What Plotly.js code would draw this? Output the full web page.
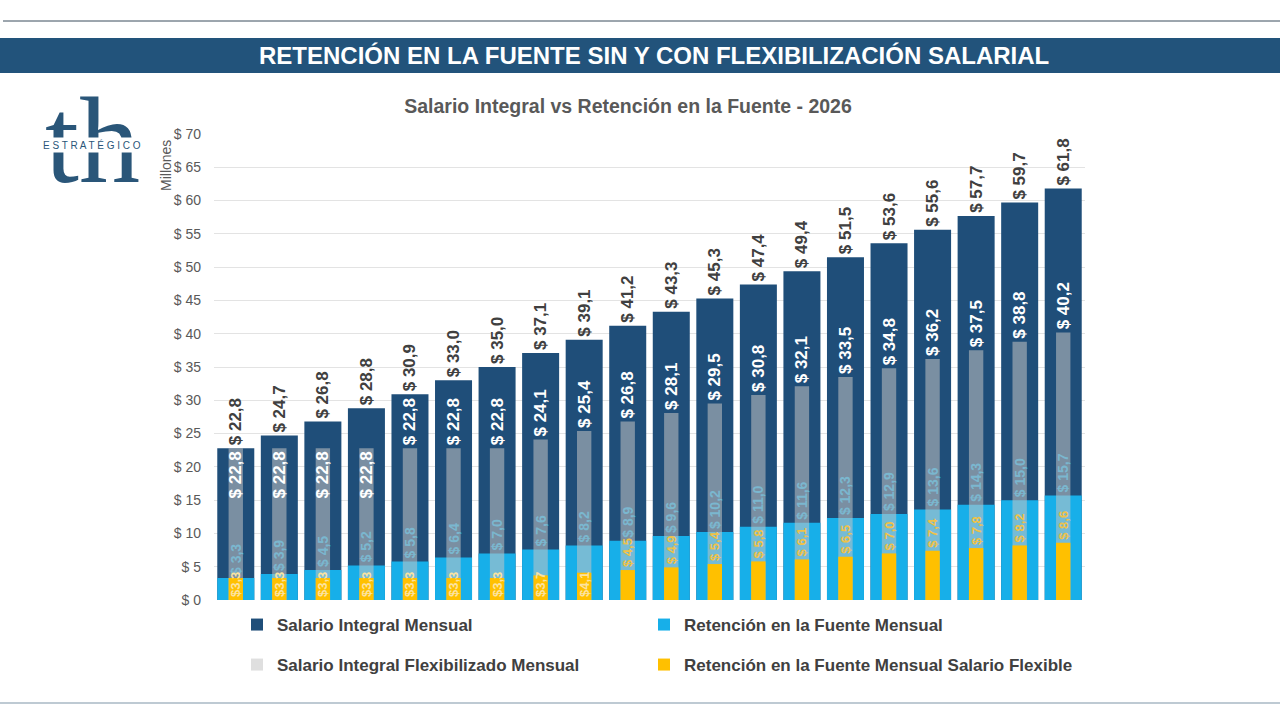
<!DOCTYPE html>
<html>
<head>
<meta charset="utf-8">
<script src="https://cdn.plot.ly/plotly-3.0.1.min.js"></script>
<style>
  html, body { margin: 0; padding: 0; background: #fff; }
  #grafico { width: 1280px; height: 720px; }
</style>
</head>
<body>
<div id="grafico"></div>
<script>
// Niveles salariales (no se muestran etiquetas en el eje x)
var niveles = ['N1','N2','N3','N4','N5','N6','N7','N8','N9','N10',
               'N11','N12','N13','N14','N15','N16','N17','N18','N19','N20'];

// Valores en millones de pesos
var salarioIntegral = [22.8, 24.7, 26.8, 28.8, 30.9, 33.0, 35.0, 37.1, 39.1, 41.2,
                       43.3, 45.3, 47.4, 49.4, 51.5, 53.6, 55.6, 57.7, 59.7, 61.8];
var salarioFlexible = [22.8, 22.8, 22.8, 22.8, 22.8, 22.8, 22.8, 24.1, 25.4, 26.8,
                       28.1, 29.5, 30.8, 32.1, 33.5, 34.8, 36.2, 37.5, 38.8, 40.2];
var retencion       = [3.3, 3.9, 4.5, 5.2, 5.8, 6.4, 7.0, 7.6, 8.2, 8.9,
                       9.6, 10.2, 11.0, 11.6, 12.3, 12.9, 13.6, 14.3, 15.0, 15.7];
var retencionFlex   = [3.3, 3.3, 3.3, 3.3, 3.3, 3.3, 3.3, 3.7, 4.1, 4.5,
                       4.9, 5.4, 5.8, 6.1, 6.5, 7.0, 7.4, 7.8, 8.2, 8.6];

var FUENTE = '"Liberation Sans Narrow", "Arial Narrow", "Liberation Sans", Arial, sans-serif';

function pesos(v) { return '$ ' + v.toFixed(1).replace('.', ','); }
function pesosCorto(v) { return '$' + v.toFixed(1).replace('.', ','); }

// area del grafico en pixeles
var L = 214, R = 1085, T = 134, B = 600;
var W = R - L, H = B - T;
function px(x) { return (x - L) / W; }
function py(y) { return (B - y) / H; }

// la barra gris va adentro en las primeras 4, afuera en el resto
var posGris = salarioFlexible.map(function (v, i) { return i < 4 ? 'inside' : 'outside'; });
// la retencion flexible va adentro hasta la 9
var posAmarillo = retencionFlex.map(function (v, i) { return i < 9 ? 'inside' : 'outside'; });
var txtAmarillo = retencionFlex.map(function (v, i) { return i < 9 ? pesosCorto(v) : pesos(v); });
var colAmarillo = retencionFlex.map(function (v, i) { return i < 9 ? '#fbe3a0' : '#efc248'; });

var data = [
  {
    type: 'bar', x: niveles, y: salarioIntegral, name: 'Salario Integral Mensual',
    width: 0.85, marker: { color: '#1f4e79' },
    text: salarioIntegral.map(pesos), textposition: 'outside', textangle: -90,
    textfont: { family: FUENTE, size: 17, color: '#404040', weight: 'bold' },
    constraintext: 'none', cliponaxis: false, hoverinfo: 'y', legend: 'legend'
  },
  {
    type: 'bar', x: niveles, y: retencion, name: 'Retención en la Fuente Mensual',
    width: 0.85, marker: { color: '#17afe9' },
    text: retencion.map(pesos), textposition: 'outside', textangle: -90,
    textfont: { family: FUENTE, size: 14, color: '#1fa6dc', weight: 'bold' },
    constraintext: 'none', cliponaxis: false, hoverinfo: 'y', legend: 'legend2'
  },
  {
    type: 'bar', x: niveles, y: salarioFlexible, name: 'Salario Integral Flexibilizado Mensual',
    width: 0.33, marker: { color: 'rgba(196,196,196,0.55)' },
    text: salarioFlexible.map(pesos), textposition: posGris, textangle: -90,
    insidetextanchor: 'end',
    textfont: { family: FUENTE, size: 17, color: '#ffffff', weight: 'bold' },
    constraintext: 'none', cliponaxis: false, hoverinfo: 'y', legend: 'legend3'
  },
  {
    type: 'bar', x: niveles, y: retencionFlex, name: 'Retención en la Fuente Mensual Salario Flexible',
    width: 0.33, marker: { color: '#ffc000' },
    text: txtAmarillo, textposition: posAmarillo, textangle: -90,
    insidetextanchor: 'start',
    textfont: { family: FUENTE, size: 13, color: colAmarillo, weight: 'bold' },
    constraintext: 'none', cliponaxis: false, hoverinfo: 'y', legend: 'legend4'
  }
];

function leyenda(x, y) {
  return {
    x: px(x), y: py(y), xanchor: 'left', yanchor: 'middle', orientation: 'h',
    font: { family: FUENTE, size: 17, color: '#404040', weight: 'bold' },
    itemwidth: 30, bgcolor: 'rgba(0,0,0,0)'
  };
}

var layout = {
  width: 1280, height: 720,
  margin: { l: L, r: 1280 - R, t: T, b: 720 - B, pad: 0 },
  paper_bgcolor: '#ffffff', plot_bgcolor: '#ffffff',
  barmode: 'overlay',
  showlegend: true,
  title: {
    text: 'Salario Integral vs Retención en la Fuente - 2026',
    font: { family: FUENTE, size: 19.5, color: '#595959', weight: 'bold' },
    xref: 'paper', x: px(628), xanchor: 'center',
    yref: 'container', y: 1 - 106 / 720, yanchor: 'middle'
  },
  xaxis: {
    type: 'category', range: [-0.5, 19.5], showticklabels: false,
    showgrid: false, zeroline: false, showline: false, ticks: ''
  },
  yaxis: {
    range: [0, 70], dtick: 5, tickprefix: '$ ', ticks: '',
    gridcolor: '#e3e3e3', gridwidth: 1, zeroline: false, showline: false,
    tickfont: { family: FUENTE, size: 14, color: '#595959' },
    ticklabelstandoff: 12
  },
  legend: leyenda(237, 625),
  legend2: leyenda(644, 625),
  legend3: leyenda(237, 665),
  legend4: leyenda(644, 665),
  shapes: [
    { type: 'line', xref: 'paper', yref: 'paper', x0: px(3), x1: px(1280), y0: py(21), y1: py(21),
      line: { color: '#3b4c5c', width: 1 } },
    { type: 'rect', xref: 'paper', yref: 'paper', x0: px(0), x1: px(1280), y0: py(73), y1: py(38),
      fillcolor: '#22537b', line: { width: 0 }, layer: 'below' },
    { type: 'line', xref: 'paper', yref: 'paper', x0: px(0), x1: px(1280), y0: py(703), y1: py(703),
      line: { color: '#a9b8c5', width: 1.5 } }
  ],
  annotations: [
    { text: 'RETENCIÓN EN LA FUENTE SIN Y CON FLEXIBILIZACIÓN SALARIAL',
      xref: 'paper', yref: 'paper', x: px(654), y: py(56), xanchor: 'center', yanchor: 'middle',
      showarrow: false,
      font: { family: '"Liberation Sans", Arial, sans-serif', size: 24, color: '#ffffff', weight: 'bold' } },
    { text: 'Millones', textangle: -90,
      xref: 'paper', yref: 'paper', x: px(166), y: py(166), xanchor: 'center', yanchor: 'middle',
      showarrow: false, font: { family: FUENTE, size: 14, color: '#595959' } },
    // logo
    { text: 'th', xref: 'paper', yref: 'paper', x: px(92), y: py(140), xanchor: 'center', yanchor: 'middle',
      showarrow: false,
      font: { family: '"Liberation Serif", "DejaVu Serif", serif', size: 122, color: '#2a5679' } },
    { text: 'E S T R A T É G I C O', xref: 'paper', yref: 'paper', x: px(92), y: py(145),
      xanchor: 'center', yanchor: 'middle', showarrow: false, bgcolor: '#ffffff', borderpad: 1,
      font: { family: '"Liberation Sans", Arial, sans-serif', size: 10, color: '#2a5679' } }
  ]
};

Plotly.newPlot('grafico', data, layout, { displayModeBar: false, staticPlot: true });
</script>
</body>
</html>
